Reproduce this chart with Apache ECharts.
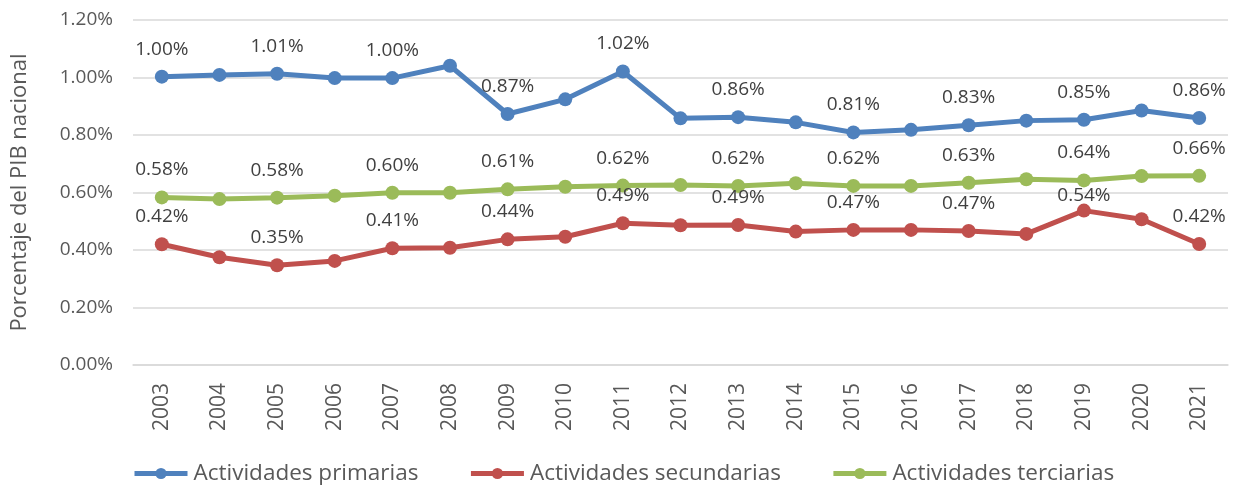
<!DOCTYPE html>
<html>
<head>
<meta charset="utf-8">
<script src="https://cdn.jsdelivr.net/npm/echarts@6/dist/echarts.min.js"></script>
<style>
  html, body { margin: 0; padding: 0; background: #fff; }
  #chart { width: 1239px; height: 485px; }
</style>
</head>
<body>
<div id="chart"></div>
<script>
const years = ['2003', '2004', '2005', '2006', '2007', '2008', '2009', '2010', '2011', '2012',
  '2013', '2014', '2015', '2016', '2017', '2018', '2019', '2020', '2021'];

// porcentaje del PIB nacional
const primarias = [1.003, 1.009, 1.013, 0.998, 0.998, 1.041, 0.873, 0.924, 1.021, 0.858,
  0.862, 0.844, 0.809, 0.818, 0.834, 0.850, 0.853, 0.885, 0.859];
const secundarias = [0.420, 0.375, 0.347, 0.362, 0.406, 0.408, 0.437, 0.446, 0.493, 0.486,
  0.487, 0.464, 0.470, 0.470, 0.466, 0.456, 0.537, 0.507, 0.421];
const terciarias = [0.583, 0.577, 0.582, 0.589, 0.599, 0.599, 0.611, 0.620, 0.624, 0.626,
  0.623, 0.632, 0.623, 0.623, 0.634, 0.646, 0.642, 0.657, 0.658];

const yTicks = { min: 0, max: 1.2, interval: 0.2 };

const FONT = '"Open Sans", sans-serif';
const GREY = '#595959';

const chart = echarts.init(document.getElementById('chart'));

const makeSeries = (name, values, color, shifted) => ({
  name: name,
  type: 'line',
  symbol: 'circle',
  symbolSize: 14,
  lineStyle: { width: 5, color: color },
  itemStyle: { color: color },
  data: values.map((v, i) => {
    const item = { value: v };
    if (shifted && shifted[i]) item.label = { offset: [0, shifted[i]] };
    return item;
  }),
  label: {
    show: true,
    position: 'top',
    distance: 11,
    color: '#404040',
    fontFamily: FONT,
    fontSize: 19,
    formatter: p => (p.dataIndex % 2 === 0 ? p.value.toFixed(2) + '%' : '')
  },
  emphasis: { disabled: true }
});

chart.setOption({
  animation: false,
  grid: { left: 133, right: 11, top: 20, bottom: 120, outerBoundsMode: 'none' },
  legend: {
    top: 457,
    left: 127,
    itemWidth: 53,
    itemHeight: 14,
    itemGap: 50,
    lineStyle: { width: 5 },
    textStyle: { color: GREY, fontFamily: FONT, fontSize: 22.5, padding: [0, 0, 0, 1] },
    data: ['Actividades primarias', 'Actividades secundarias', 'Actividades terciarias']
  },
  xAxis: {
    type: 'category',
    data: years,
    axisTick: { show: false },
    axisLine: { lineStyle: { color: '#D9D9D9', width: 1.5 } },
    axisLabel: {
      rotate: 90,
      margin: 18,
      color: GREY,
      fontFamily: FONT,
      fontSize: 21
    }
  },
  yAxis: {
    type: 'value',
    min: yTicks.min,
    max: yTicks.max,
    interval: yTicks.interval,
    name: 'Porcentaje del PIB nacional',
    nameLocation: 'middle',
    nameGap: 102,
    nameTextStyle: { color: GREY, fontFamily: FONT, fontSize: 22 },
    axisLine: { show: false },
    axisTick: { show: false },
    splitLine: { lineStyle: { color: '#D9D9D9', width: 1.5 } },
    axisLabel: {
      margin: 20,
      color: GREY,
      fontFamily: FONT,
      fontSize: 19,
      formatter: v => v.toFixed(2) + '%'
    }
  },
  series: [
    makeSeries('Actividades primarias', primarias, '#4F81BD'),
    makeSeries('Actividades secundarias', secundarias, '#C0504D', { 16: 12 }),
    makeSeries('Actividades terciarias', terciarias, '#9BBB59')
  ]
});

window.addEventListener('resize', () => chart.resize());
</script>
</body>
</html>
